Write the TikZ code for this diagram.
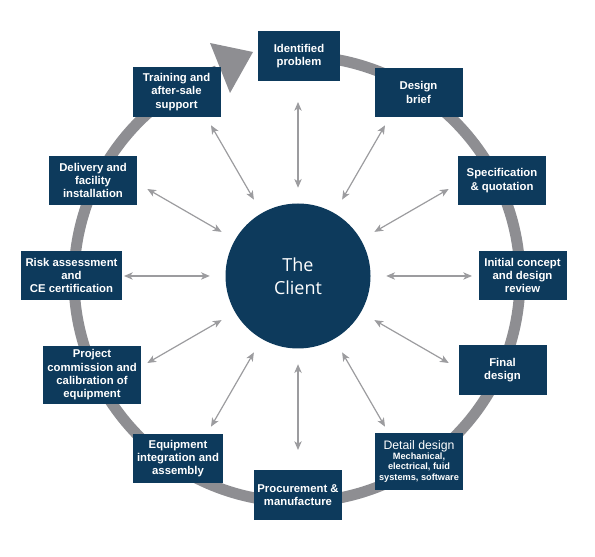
\documentclass[tikz,border=0pt]{standalone}
\usepackage{fontspec}
\setmainfont{Liberation Sans}
\newfontfamily\clientfont{Open Sans}
\usepackage{tikz}
\usetikzlibrary{arrows.meta,calc}
\definecolor{navy}{HTML}{0D3A5C}
\definecolor{ringgray}{HTML}{8E8E92}
\definecolor{linkgray}{HTML}{9C9C9F}
\tikzset{stage/.style={fill=navy, text=white, align=center, inner sep=1pt,
    font=\bfseries\fontsize{8.5}{10}\selectfont,
    minimum width=66pt, minimum height=36.75pt}}
\tikzset{link/.style={linkgray, line width=0.9pt,
    {Stealth[length=6.5pt,width=5.5pt,inset=1.8pt]}-{Stealth[length=6.5pt,width=5.5pt,inset=1.8pt]}}}

\begin{document}
\begin{tikzpicture}[x=0.75pt,y=0.75pt]
                \useasboundingbox (0,0) rectangle (595,556);
                
                % Ring
                \draw[ringgray, line width=8.25pt] (297,277) ++(85:223) arc[start angle=85, end angle=-249, radius=223];
                \fill[ringgray] (210,513) -- (253,504) -- (230,463) -- cycle;  % arrow head
                
                % Client
                \node[circle, fill=navy, text=white, inner sep=0pt, minimum size=108.75pt, align=center,
                      font=\clientfont\fontsize{13.5}{17.5}\selectfont] (client) at (298,280) {The\\Client};
                
                % Stages
                \node[stage, minimum width=61.5pt, minimum height=37.5pt] (ident) at (299,500) {Identified\\problem};
                \node[stage] (brief) at (418.5,463.5) {Design\\brief};
                \node[stage] (spec) at (502,375.5) {Specification\\\& quotation};
                \node[stage] (concept) at (522.5,280.5) {Initial concept\\and design\\review};
                \node[stage, minimum height=37.5pt] (final) at (502.5,186) {Final\\design};
                \node[stage, minimum height=42.75pt, font=\bfseries\fontsize{6.9}{8}\selectfont] (detail) at (419,94.5)
                      {{\mdseries\fontsize{9.2}{10}\selectfont Detail design}\\[-0.5pt]
                       Mechanical,\\electrical, fuid\\systems, software};
                \node[stage] (procure) at (298,61) {Procurement \&\\manufacture};
                \node[stage, minimum width=67.5pt] (equip) at (178,97.5) {Equipment\\integration and\\assembly};
                \node[stage, minimum width=73.5pt, minimum height=43.5pt] (commission) at (92,181) {Project\\commission and\\calibration of\\equipment};
                \node[stage, minimum width=75.75pt] (risk) at (71.5,280.5) {Risk assessment\\and\\CE certification};
                \node[stage] (delivery) at (93,375.5) {Delivery and\\facility\\installation};
                \node[stage, minimum height=37.5pt] (training) at (176.5,464) {Training and\\after-sale\\support};
                
                % Links
                \foreach \a in {0,30,...,330} {
                    \coordinate (tip\a) at ($(client.center)+(\a:174)$);
                    \draw[link, shorten <=11.6pt] (client.\a) -- (tip\a);
                }
            \end{tikzpicture}
\end{document}
